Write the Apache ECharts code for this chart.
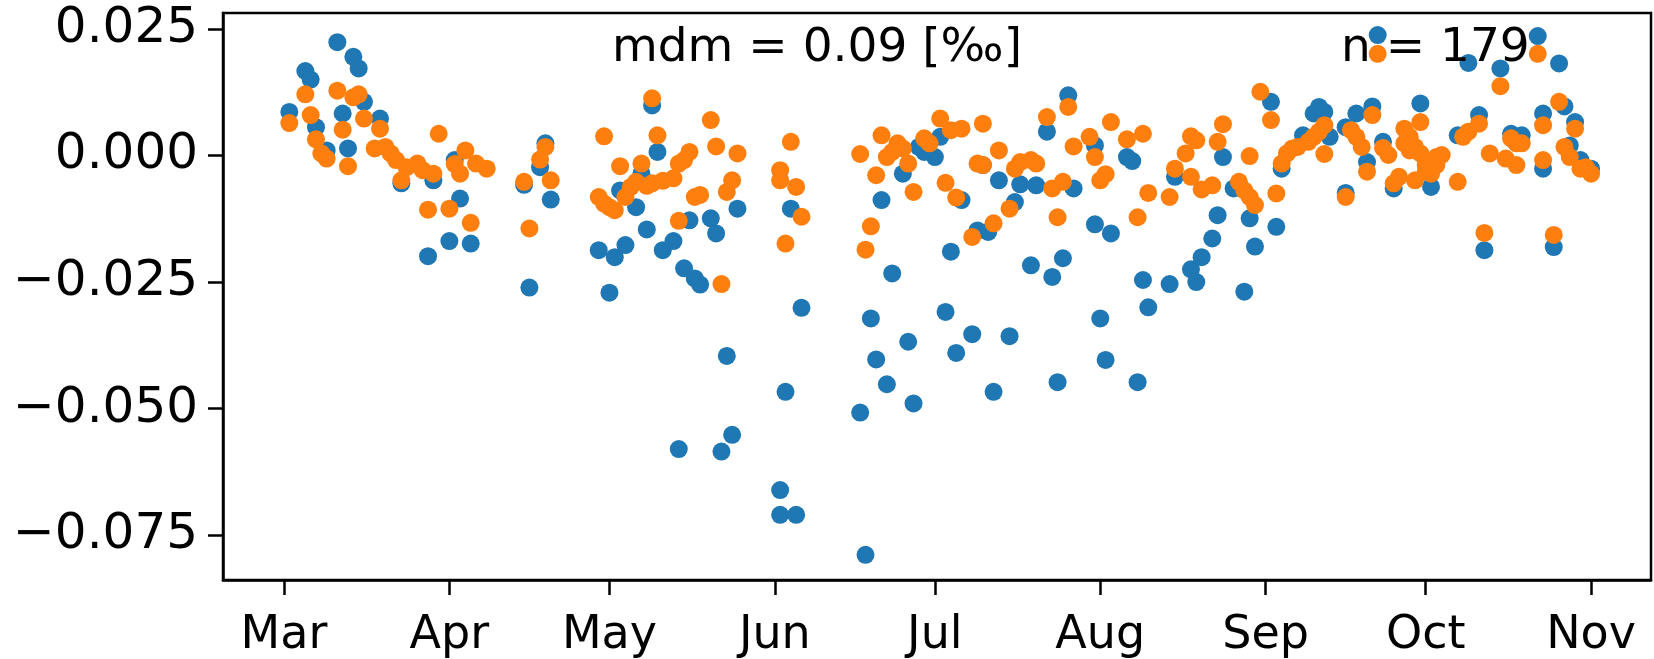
<!DOCTYPE html>
<html>
<head>
<meta charset="UTF-8">
<title>mdm scatter</title>
<script src="https://cdn.jsdelivr.net/npm/echarts@6/dist/echarts.min.js"></script>
<style>
    html, body { margin: 0; padding: 0; background: #fff; }
    #chart { width: 1654px; height: 659px; }
</style>
</head>
<body>
<div id="chart"></div>
<script>
    const YEAR = 2019;
    const monthLabels = ['Mar', 'Apr', 'May', 'Jun', 'Jul', 'Aug', 'Sep', 'Oct', 'Nov'];
    const yTicks = [-0.075, -0.05, -0.025, 0, 0.025];

    // blue series
    const blueDates = [
        '03-02','03-05','03-06','03-07','03-09','03-11','03-12','03-13','03-14','03-15','03-16','03-19','03-23','03-28','03-29',
        '04-01','04-02','04-03','04-05','04-15','04-16','04-18','04-19','04-20','04-29',
        '05-01','05-02','05-03','05-04','05-06','05-07','05-08','05-09','05-10','05-11','05-13','05-14','05-15','05-16','05-17',
        '05-18','05-20','05-21','05-22','05-23','05-24','05-25',
        '06-02','06-02','06-03','06-04','06-05','06-06','06-17','06-18','06-19','06-20','06-21','06-22','06-23','06-25','06-26',
        '06-27','06-28','06-29',
        '07-01','07-02','07-03','07-04','07-05','07-06','07-08','07-09','07-10','07-11','07-12','07-13','07-15','07-16','07-17',
        '07-19','07-20','07-22','07-23','07-24','07-25','07-26','07-27','07-31','07-31',
        '08-01','08-02','08-03','08-06','08-07','08-08','08-09','08-10','08-14','08-15','08-18','08-19','08-20','08-22','08-23',
        '08-24','08-26','08-28','08-29','08-30',
        '09-02','09-03','09-04','09-08','09-10','09-11','09-12','09-13','09-16','09-16','09-18','09-20','09-21','09-22','09-23',
        '09-25','09-28','09-30',
        '10-02','10-07','10-09','10-11','10-12','10-15','10-17','10-19','10-22','10-23','10-23','10-25','10-26','10-27','10-28',
        '10-29','10-30','11-01'
    ];
    const blueValues = [
        0.0086, 0.0167, 0.0150, 0.0056, 0.0010, 0.0224, 0.0083, 0.0014, 0.0195, 0.0172, 0.0106, 0.0073, -0.0055, -0.0199, -0.0049,
        -0.0169, -0.0009, -0.0085, -0.0174, -0.0058, -0.0261, -0.0023, 0.0024, -0.0087, -0.0187,
        -0.0271, -0.0201, -0.0069, -0.0177, -0.0102, -0.0036, -0.0146, 0.0099, 0.0007, -0.0187, -0.0169, -0.0580, -0.0223, -0.0128, -0.0243,
        -0.0255, -0.0124, -0.0154, -0.0585, -0.0396, -0.0552, -0.0105,
        -0.0661, -0.0710, -0.0467, -0.0105, -0.0710, -0.0301, -0.0508, -0.0789, -0.0322, -0.0403, -0.0088, -0.0452, -0.0233, -0.0036, -0.0368,
        -0.0490, 0.0017, 0.0007,
        -0.0003, 0.0037, -0.0309, -0.0190, -0.0390, -0.0088, -0.0353, -0.0148, -0.0019, -0.0151, -0.0467, -0.0049, -0.0357, -0.0092, -0.0057,
        -0.0217, -0.0059, 0.0047, -0.0240, -0.0448, -0.0203, 0.0119, -0.0065, 0.0020, -0.0136,
        -0.0322, -0.0404, -0.0154, -0.0003, -0.0011, -0.0448, -0.0246, -0.0300, -0.0254, -0.0042, -0.0225, -0.0250, -0.0201, -0.0164, -0.0118,
        -0.0003, -0.0065, -0.0269, -0.0124, -0.0180,
        0.0106, -0.0141, -0.0026, 0.0040, 0.0083, 0.0096, 0.0086, 0.0037, -0.0074, 0.0056, 0.0083, -0.0013, 0.0097, 0.0238, 0.0027,
        -0.0065, 0.0030, 0.0103,
        -0.0062, 0.0040, 0.0183, 0.0080, -0.0187, 0.0172, 0.0043, 0.0040, 0.0236, 0.0083, -0.0026, -0.0181, 0.0182, 0.0097, 0.0020,
        0.0066, -0.0009, -0.0026
    ];

    // orange series
    const orangeDates = [
        '03-02','03-05','03-06','03-07','03-08','03-09','03-11','03-12','03-13','03-14','03-15','03-16','03-18','03-19','03-20',
        '03-21','03-22','03-23','03-24','03-26','03-27','03-28','03-29','03-30',
        '04-01','04-02','04-03','04-04','04-05','04-06','04-08','04-15','04-16','04-18','04-19','04-20','04-29','04-30','04-30',
        '05-01','05-02','05-03','05-04','05-05','05-06','05-07','05-08','05-09','05-09','05-10','05-11','05-13','05-14','05-14',
        '05-15','05-16','05-17','05-18','05-20','05-21','05-22','05-23','05-24','05-25',
        '06-02','06-02','06-03','06-04','06-05','06-06','06-17','06-18','06-19','06-20','06-21','06-22','06-23','06-24','06-25',
        '06-26','06-27','06-29','06-30',
        '07-02','07-03','07-04','07-05','07-06','07-08','07-09','07-10','07-10','07-12','07-13','07-15','07-16','07-17','07-19',
        '07-20','07-22','07-23','07-24','07-25','07-26','07-27','07-30','07-31',
        '08-01','08-02','08-03','08-06','08-08','08-09','08-10','08-14','08-15','08-17','08-18','08-18','08-19','08-20','08-22',
        '08-23','08-24','08-27','08-28','08-29','08-29','08-30','08-31',
        '09-02','09-03','09-04','09-05','09-06','09-07','09-09','09-10','09-11','09-12','09-12','09-16','09-17','09-18','09-19',
        '09-20','09-21','09-22','09-23','09-24','09-25','09-26','09-27','09-27','09-28','09-28','09-29','09-29','09-30','09-30',
        '10-01','10-01','10-02','10-03','10-03','10-04','10-07','10-08','10-09','10-11','10-12','10-13','10-15','10-16','10-17',
        '10-18','10-18','10-19','10-22','10-23','10-23','10-25','10-26','10-27','10-28','10-29','10-30','10-31','11-01'
    ];
    const orangeValues = [
        0.0064, 0.0121, 0.0080, 0.0032, 0.0004, -0.0006, 0.0128, 0.0051, -0.0021, 0.0115, 0.0121, 0.0073, 0.0014, 0.0053, 0.0017,
        0.0004, -0.0009, -0.0049, -0.0023, -0.0016, -0.0029, -0.0107, -0.0036, 0.0043,
        -0.0105, -0.0017, -0.0036, 0.0010, -0.0133, -0.0016, -0.0026, -0.0052, -0.0144, -0.0008, 0.0017, -0.0049, -0.0082, 0.0038, -0.0095,
        -0.0102, -0.0108, -0.0021, -0.0082, -0.0062, -0.0052, -0.0016, -0.0060, 0.0113, -0.0055, 0.0040, -0.0050, -0.0045, -0.0129, -0.0016,
        -0.0009, 0.0007, -0.0082, -0.0078, 0.0070, 0.0018, -0.0254, -0.0072, -0.0049, 0.0004,
        -0.0029, -0.0049, -0.0174, 0.0027, -0.0062, -0.0121, 0.0003, -0.0186, -0.0140, -0.0039, 0.0040, -0.0003, 0.0007, 0.0024, 0.0014,
        -0.0016, -0.0072, 0.0034, 0.0024,
        0.0073, -0.0054, 0.0050, -0.0083, 0.0053, -0.0161, -0.0016, 0.0063, -0.0019, -0.0134, 0.0010, -0.0105, -0.0026, -0.0013, -0.0009,
        -0.0016, 0.0076, -0.0065, -0.0122, -0.0052, 0.0096, 0.0018, 0.0037, -0.0003,
        -0.0049, -0.0037, 0.0066, 0.0032, -0.0122, 0.0043, -0.0074, -0.0082, -0.0026, 0.0004, 0.0038, -0.0042, 0.0030, -0.0067, -0.0059,
        0.0027, 0.0062, -0.0052, -0.0069, -0.0082, -0.0001, -0.0098, 0.0126,
        0.0070, -0.0075, -0.0016, 0.0004, 0.0014, 0.0017, 0.0027, 0.0037, 0.0047, 0.0003, 0.0060, -0.0082, 0.0050, 0.0037, 0.0017,
        -0.0032, 0.0080, 0.0201, 0.0015, 0.0001, -0.0055, -0.0042, 0.0053, 0.0024, 0.0037, 0.0010, -0.0049, 0.0017, 0.0066, 0.0004,
        -0.0032, -0.0019, -0.0036, -0.0019, -0.0003, 0.0001, -0.0052, 0.0037, 0.0047, 0.0063, -0.0153, 0.0004, 0.0137, -0.0006, 0.0034,
        -0.0019, 0.0024, 0.0024, 0.0201, 0.0060, -0.0009, -0.0157, 0.0106, 0.0017, -0.0003, 0.0053, -0.0026, -0.0023, -0.0036
    ];

    const FONT = 'DejaVu Sans';

    function toTime(md) {
        const [m, d] = md.split('-').map(Number);
        return new Date(YEAR, m - 1, d).getTime();
    }
    // first day of each labelled month
    const monthTicks = monthLabels.map((_, i) => new Date(YEAR, 2 + i, 1).getTime());

    const spine = { show: true, onZero: false, lineStyle: { color: '#000', width: 2.5 } };
    const tick = { show: true, inside: false, length: 15, lineStyle: { color: '#000', width: 2.5 } };

    const chart = echarts.init(document.getElementById('chart'));
    chart.setOption({
        animation: false,
        backgroundColor: '#fff',
        title: [
            {
                text: 'mdm = 0.09 [‰]', left: 612, top: 25, padding: 0,
                textStyle: { fontFamily: FONT, fontSize: 47, fontWeight: 'normal', color: '#000' }
            },
            {
                text: 'n = 179', left: 1341, top: 25, padding: 0,
                textStyle: { fontFamily: FONT, fontSize: 47, fontWeight: 'normal', color: '#000' }
            }
        ],
        grid: {
            left: 223, right: 3, top: 13, bottom: 79,
            outerBoundsMode: 'none',
            show: true, borderColor: '#000', borderWidth: 2.5
        },
        xAxis: {
            type: 'value',
            scale: true,
            min: new Date(YEAR, 1, 17, 13, 40).getTime(),
            max: new Date(YEAR, 10, 12, 5, 30).getTime(),
            axisLine: spine,
            axisTick: Object.assign({ customValues: monthTicks }, tick),
            axisLabel: {
                fontFamily: FONT, fontSize: 46, color: '#000', margin: 33,
                customValues: monthTicks,
                formatter: (v) => monthLabels[new Date(v).getMonth() - 2]
            },
            splitLine: { show: false }
        },
        yAxis: {
            type: 'value',
            min: -0.08388,
            max: 0.02816,
            axisLine: spine,
            axisTick: Object.assign({ customValues: yTicks }, tick),
            axisLabel: {
                fontFamily: FONT, fontSize: 50, color: '#000', margin: 25,
                customValues: yTicks,
                formatter: (v) => (v < 0 ? '\u2212' : '') + Math.abs(v).toFixed(3)
            },
            splitLine: { show: false }
        },
        series: [
            {
                type: 'scatter',
                symbolSize: 18,
                itemStyle: { color: '#1f77b4', opacity: 1 },
                emphasis: { disabled: true },
                data: blueDates.map((d, i) => [toTime(d), blueValues[i]])
            },
            {
                type: 'scatter',
                symbolSize: 18,
                itemStyle: { color: '#ff7f0e', opacity: 1 },
                emphasis: { disabled: true },
                data: orangeDates.map((d, i) => [toTime(d), orangeValues[i]])
            }
        ]
    });
</script>
</body>
</html>
